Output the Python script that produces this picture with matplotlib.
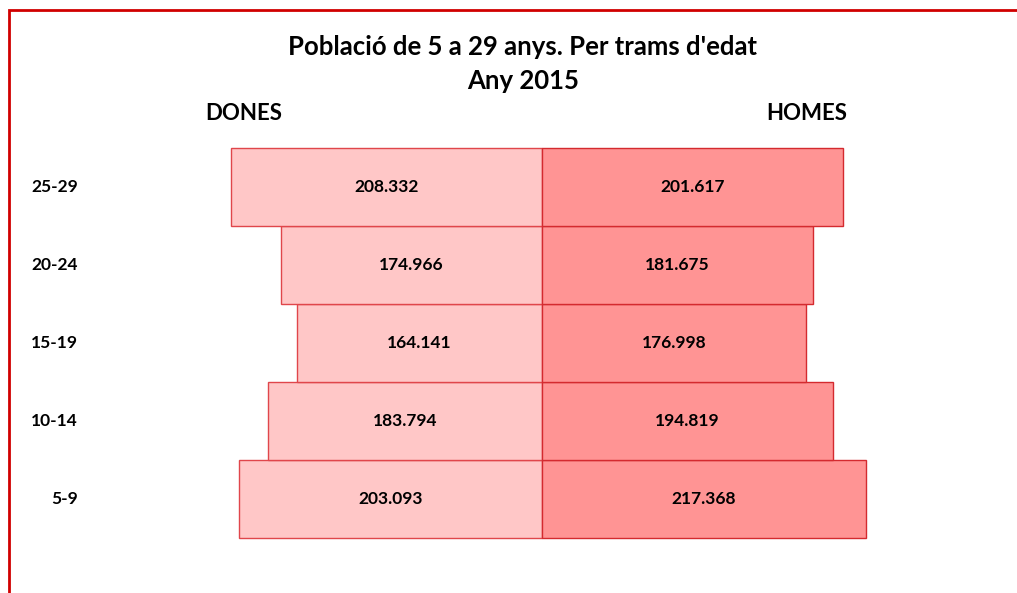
import matplotlib.pyplot as plt
from matplotlib.patches import Rectangle

# dades
trams = ['5-9', '10-14', '15-19', '20-24', '25-29']
dones = [203093, 183794, 164141, 174966, 208332]
homes = [217368, 194819, 176998, 181675, 201617]

plt.rcParams['font.family'] = ['Lato', 'DejaVu Sans']

fig = plt.figure(figsize=(10.17, 5.93), dpi=100)
ax = fig.add_axes([0, 0, 1, 1])
ax.set_xlim(-363500, 318500)
ax.set_ylim(-1.205, 6.397)
ax.axis('off')

y = list(range(len(trams)))
ax.barh(y, [-d for d in dones], height=1.0, color='#ffc7c7', edgecolor='#e0464b', linewidth=1)
ax.barh(y, homes, height=1.0, color='#ff9494', edgecolor='#d42a2f', linewidth=1)

def fmt(v):
    return f'{v:,}'.replace(',', '.')

for i in y:
    ax.text(-dones[i] / 2, i, fmt(dones[i]), ha='center', va='center', fontsize=12.5, fontweight='bold')
    ax.text(homes[i] / 2, i, fmt(homes[i]), ha='center', va='center', fontsize=12.5, fontweight='bold')
    ax.text(78 / 1017, i, trams[i], transform=ax.get_yaxis_transform(), ha='right', va='center',
            fontsize=12.5, fontweight='bold')

# títols
fig.text(523 / 1017, 1 - 47 / 593, "Població de 5 a 29 anys. Per trams d'edat", ha='center', va='center',
         fontsize=18.5, fontweight='bold')
fig.text(523 / 1017, 1 - 81 / 593, 'Any 2015', ha='center', va='center', fontsize=18.5, fontweight='bold')
fig.text(244 / 1017, 1 - 113 / 593, 'DONES', ha='center', va='center', fontsize=16, fontweight='bold')
fig.text(807 / 1017, 1 - 113 / 593, 'HOMES', ha='center', va='center', fontsize=16, fontweight='bold')

# marc vermell (només superior i esquerra visibles)
fig.patches.append(Rectangle((9 / 1017, -0.1), 1.2, 1.1 - 10 / 593, transform=fig.transFigure,
                             fill=False, edgecolor='#d00000', linewidth=2))

fig.savefig('out.png', dpi=100)
